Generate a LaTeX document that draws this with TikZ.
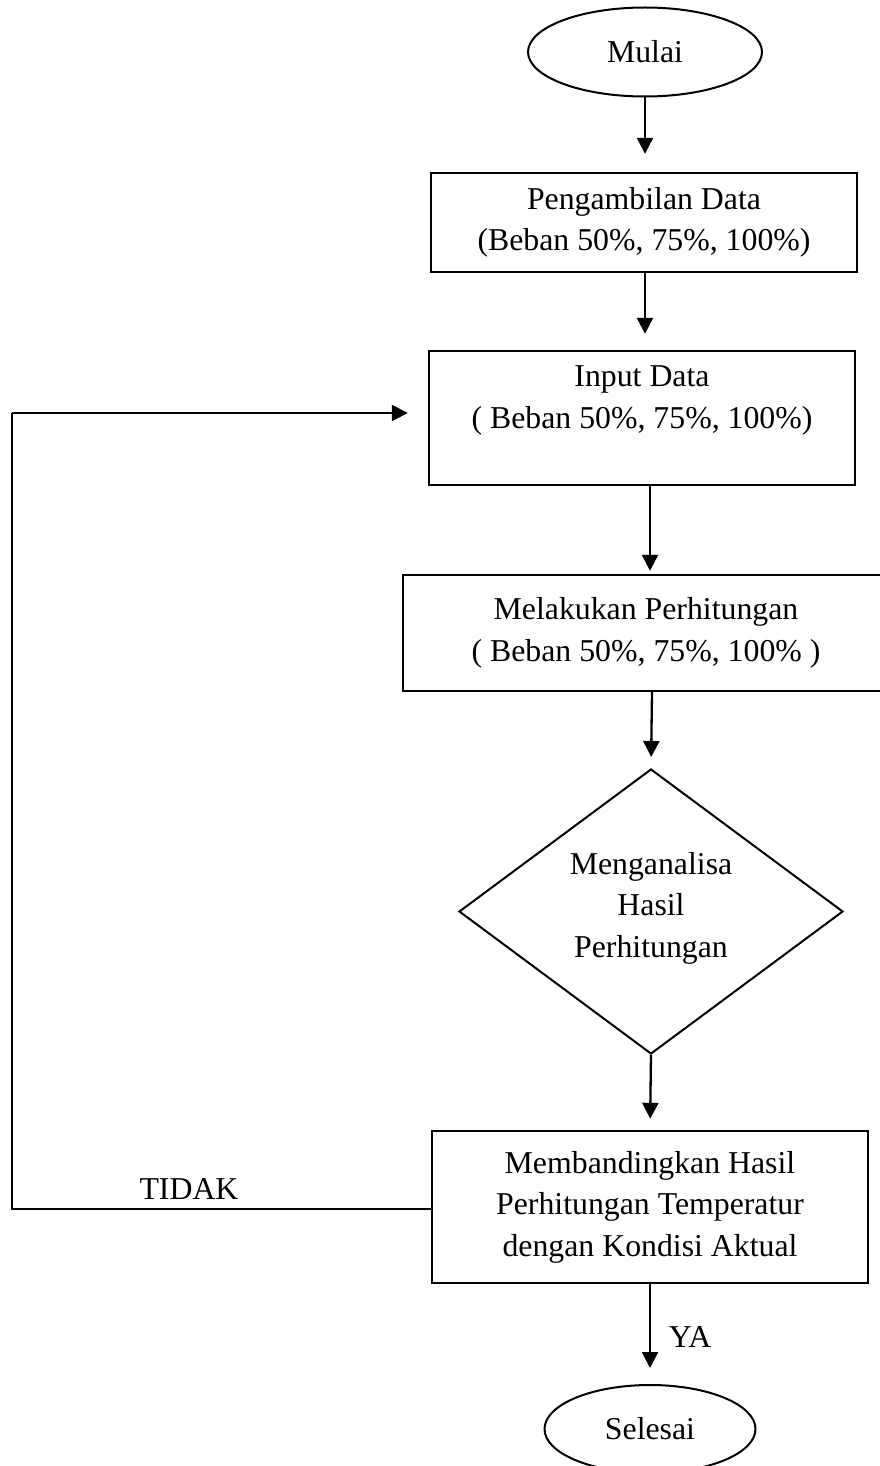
\documentclass[tikz,border=0pt]{standalone}
\usepackage{fontspec}
\setmainfont{Liberation Serif}
\usetikzlibrary{shapes.geometric,arrows.meta,calc}
\begin{document}
\begin{tikzpicture}[x=1pt,y=-1pt,
  every node/.style={font=\fontsize{31.8}{41.5}\selectfont},
  term/.style={draw,ellipse,line width=2pt,inner sep=0pt},
  procbox/.style={draw,rectangle,line width=2.4pt,inner sep=0pt,align=center},
  dec/.style={draw,diamond,line width=2pt,inner sep=0pt},
  arr/.style={line width=2.3pt,-{Triangle[width=16pt,length=16pt]}},
  lin/.style={line width=2.3pt}]
\useasboundingbox (0,0) rectangle (880,1466);
\node[term,minimum width=234pt,minimum height=89pt] (m) at (645,52) {Mulai};
\node[procbox,minimum width=426pt,minimum height=99pt] (b1) at (644,222.5)
  {Pengambilan Data\\(Beban 50\%, 75\%, 100\%)};
\node[procbox,minimum width=426pt,minimum height=134pt] (b2) at (642,418)
  {Input Data\\( Beban 50\%, 75\%, 100\%)\\ \mbox{}};
\node[procbox,minimum width=486pt,minimum height=116pt] (b3) at (646,633)
  {Melakukan Perhitungan\\( Beban 50\%, 75\%, 100\% )};
\node[dec,minimum width=384pt,minimum height=285pt] (d) at (651,911.5) {};
\node[align=center] (dt) at (651,908) {Menganalisa\\Hasil\\Perhitungan};
\node[procbox,minimum width=436pt,minimum height=152pt] (b5) at (650,1207)
  {Membandingkan Hasil\\Perhitungan Temperatur\\dengan Kondisi Aktual};
\node[term,minimum width=211pt,minimum height=88pt] (s) at (650,1429) {Selesai};
\coordinate (lc1) at (12,1209);
\coordinate (lc2) at (12,413);
\node (tidak) at (189,1189) {TIDAK};
\node (ya) at (690,1337) {YA};
\draw[arr,shorten >=18pt] (m.south) -- (b1.north -| m.south);
\draw[arr,shorten >=16pt] (b1.south -| m.south) -- (b2.north -| m.south);
\draw[arr,shorten >=3pt] ($(b2.south)+(8,0)$) -- ($(b3.north)+(4,0)$);
\draw[arr,shorten >=11pt] ($(b3.south)+(6,0)$) -- (d.north);
\draw[arr,shorten >=11pt] (d.south) -- (b5.north);
\draw[arr,shorten >=16pt] (b5.south) -- (s.north);
\draw[lin] (b5.west |- lc1) -- (lc1) -- (lc2);
\draw[arr,shorten >=20pt] (lc2) -- (b2.west |- lc2);
\end{tikzpicture}
\end{document}
